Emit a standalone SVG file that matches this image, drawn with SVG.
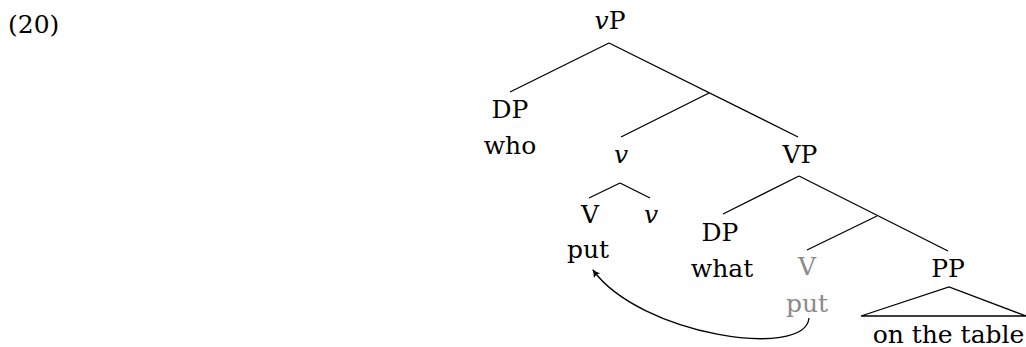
<svg xmlns="http://www.w3.org/2000/svg" width="1026" height="347" viewBox="0 0 1026 347">
<style>
text{font-family:"DejaVu Serif","Liberation Serif",serif;font-size:25px;fill:#000;text-anchor:middle}
.it{font-style:italic}
.gray{fill:#8a8a8a}
.edge{stroke:#000;stroke-width:1.3;fill:none}
</style>
<defs>
<marker id="ah" markerWidth="10" markerHeight="10" refX="7" refY="5" orient="auto" markerUnits="userSpaceOnUse">
<path d="M0,1 Q4,4 8,5 Q4,6 0,9 Q2,5 0,1 Z" fill="#000"/>
</marker>
</defs>
<text x="8" y="33" style="text-anchor:start">(20)</text>
<g id="connectors">
<line class="edge" x1="609" y1="43" x2="510" y2="92"/>
<line class="edge" x1="609" y1="43" x2="798" y2="137"/>
<line class="edge" x1="709" y1="93" x2="621" y2="137"/>
<line class="edge" x1="620" y1="183" x2="589" y2="198"/>
<line class="edge" x1="620" y1="183" x2="650" y2="198"/>
<line class="edge" x1="799" y1="176" x2="723" y2="214"/>
<line class="edge" x1="799" y1="176" x2="948" y2="251"/>
<line class="edge" x1="877" y1="216" x2="807" y2="250"/>
<path class="edge" d="M861,316 L949,287 L1026,316 Z"/>
<path class="edge" d="M809,318 C805,360 640,335 593,270" marker-end="url(#ah)"/>
</g>
<g id="vP"><text x="610" y="29"><tspan class="it">v</tspan>P</text></g>
<g id="DP-who"><text x="510" y="118">DP</text><text x="510" y="154">who</text></g>
<g id="v-bar"><text x="621" y="163" class="it">v</text></g>
<g id="VP"><text x="800" y="163">VP</text></g>
<g id="V-put"><text x="590" y="223">V</text><text x="588" y="258">put</text></g>
<g id="v-head"><text x="651" y="223" class="it">v</text></g>
<g id="DP-what"><text x="720" y="241">DP</text><text x="722" y="277">what</text></g>
<g id="V-trace"><text x="807" y="275" class="gray">V</text><text x="807" y="312" class="gray">put</text></g>
<g id="PP"><text x="948" y="277">PP</text><text x="948.5" y="343">on the table</text></g>
</svg>
